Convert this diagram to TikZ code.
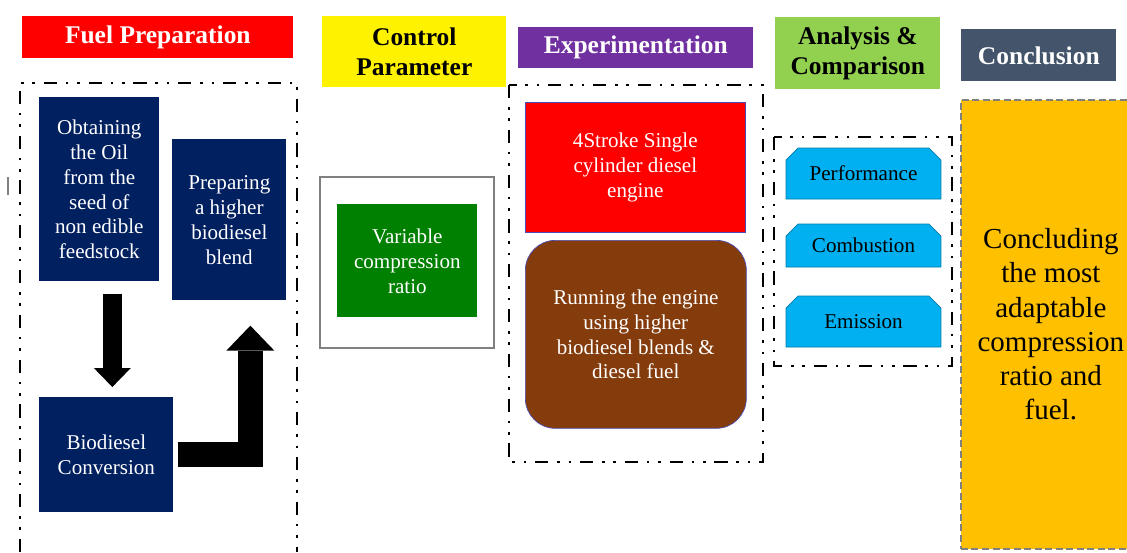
\documentclass[tikz,border=0pt]{standalone}
\usepackage{fontspec}
\setmainfont{Liberation Serif}
\usetikzlibrary{arrows.meta}
\usetikzlibrary{shapes.misc}

\definecolor{navy}{HTML}{002060}
\definecolor{hdrpurple}{HTML}{7030A0}
\definecolor{hdrgreen}{HTML}{92D050}
\definecolor{slate}{HTML}{44546A}
\definecolor{leaf}{HTML}{008000}
\definecolor{rust}{HTML}{843C0C}
\definecolor{sky}{HTML}{00B0F0}
\definecolor{amber}{HTML}{FFC000}

\begin{document}
\begin{tikzpicture}[x=0.02cm, y=-0.02cm,
  hdr/.style={anchor=north west, inner sep=0pt, align=center, font=\fontsize{14.5}{17.5}\selectfont\bfseries},
  card/.style={anchor=north west, inner sep=0pt, align=center, text=white, font=\fontsize{12}{14.2}\selectfont},
  frame/.style={line width=1.5pt, dash pattern=on 7.5pt off 5pt on 1.5pt off 5pt on 1.5pt off 5pt},
  metric/.style={chamfered rectangle, chamfered rectangle corners={north west,north east},
    chamfered rectangle xsep=0.12cm, chamfered rectangle ysep=0.12cm, anchor=center,
    inner sep=0pt, fill=sky, draw=sky!70!black, minimum width=3.1cm, font=\fontsize{12}{14}\selectfont}
]
\useasboundingbox (0,0) rectangle (1127,552);
\draw[gray, line width=0.8pt] (8,177) -- (8,195);

\node[hdr, fill=red, text=white, minimum width=5.42cm, minimum height=0.84cm] (hfuel) at (22,16) {Fuel Preparation};
\node[hdr, fill=yellow, minimum width=3.68cm, minimum height=1.42cm] (hctrl) at (322,16) {Control\\Parameter};
\node[hdr, fill=hdrpurple, text=white, minimum width=4.70cm, minimum height=0.82cm] (hexp) at (518,27) {Experimentation};
\node[hdr, fill=hdrgreen, minimum width=3.30cm, minimum height=1.44cm] (hana) at (775,17) {Analysis \&\\Comparison};
\node[hdr, fill=slate, text=white, minimum width=3.10cm, minimum height=1.04cm] (hconc) at (961,29) {Conclusion};

\draw[frame] (20,552) |- (297,83) -- (297,552);
\draw[frame] (509,85) rectangle (763,462);
\draw[frame] (774,137) rectangle (952,366);
\draw[gray, line width=1.2pt] (320,177) rectangle (494,348);

\node[card, fill=navy, minimum width=2.40cm, minimum height=3.68cm] (oil) at (39,97) {Obtaining\\the Oil\\from the\\seed of\\non edible\\feedstock};
\node[card, fill=navy, minimum width=2.28cm, minimum height=3.22cm] (prep) at (172,139) {Preparing\\a higher\\biodiesel\\blend};
\node[card, fill=navy, minimum width=2.68cm, minimum height=2.30cm] (conv) at (39,397) {Biodiesel\\Conversion};

\draw[line width=0.38cm, -{Triangle[width=0.74cm,length=0.38cm,line width=0pt]}, shorten <=0.24cm, shorten >=0.2cm]
  ([xshift=0.26cm]oil.south) -- ([xshift=0.12cm]conv.north);
\draw[line width=0.5cm, -{Triangle[width=0.96cm,length=0.5cm,line width=0pt]}, shorten <=0.08cm, shorten >=0.5cm]
  (conv.east) -| ([xshift=0.42cm]prep.south);

\node[card, fill=leaf, minimum width=2.80cm, minimum height=2.26cm] (vcr) at (337,204) {Variable\\compression\\ratio};

\node[card, fill=red, draw=blue!40!gray, minimum width=4.40cm, minimum height=2.60cm] (engine) at (525,102) {4Stroke Single\\cylinder diesel\\engine};
\node[card, fill=rust, draw=blue!40!gray, rounded corners=0.6cm, minimum width=4.42cm, minimum height=3.76cm] (run) at (525,240) {Running the engine\\using higher\\biodiesel blends \&\\diesel fuel};

\foreach \name/\txt/\y/\h in {perf/Performance/173.5/1.02cm, comb/Combustion/245.5/0.86cm, emis/Emission/321.5/1.02cm}
  \node[metric, minimum height=\h] (\name) at (863.5,\y) {\txt};

\node[anchor=north west, fill=amber, draw=gray, line width=1pt, dash pattern=on 4pt off 2pt,
  minimum width=3.6cm, minimum height=8.98cm, align=center, inner sep=0pt,
  font=\fontsize{16.5}{19.5}\selectfont] (conc) at (960,99) {Concluding\\the most\\adaptable\\compression\\ratio and\\fuel.};
\end{tikzpicture}
\end{document}
